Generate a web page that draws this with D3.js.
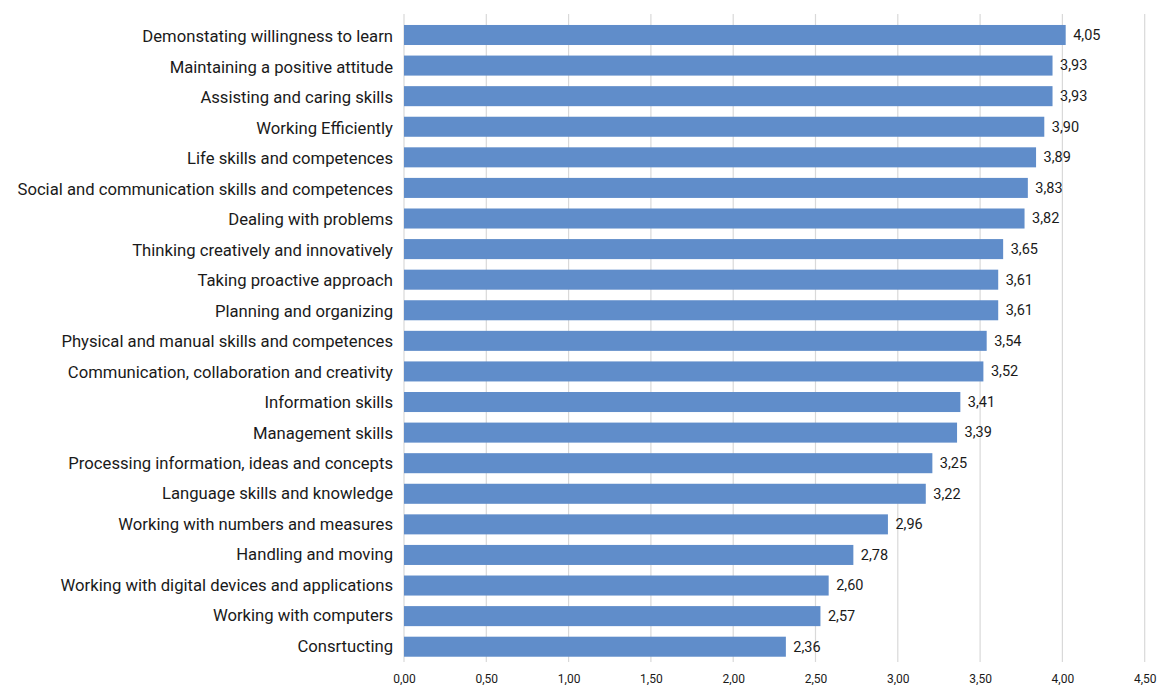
<!DOCTYPE html>
<html>
<head>
<meta charset="utf-8">
<script src="https://cdn.jsdelivr.net/npm/d3@7"></script>
<style>
  body { margin: 0; background: #fff; }
  svg { display: block; font-family: Roboto, "Noto Sans", sans-serif; }
</style>
</head>
<body>
<svg id="chart" width="1160" height="685"></svg>
<script>
const categories = [
  "Demonstating willingness to learn",
  "Maintaining a positive attitude",
  "Assisting and caring skills",
  "Working Efficiently",
  "Life skills and competences",
  "Social and communication skills and competences",
  "Dealing with problems",
  "Thinking creatively and innovatively",
  "Taking proactive approach",
  "Planning and organizing",
  "Physical and manual skills and competences",
  "Communication, collaboration and creativity",
  "Information skills",
  "Management skills",
  "Processing information, ideas and concepts",
  "Language skills and knowledge",
  "Working with numbers and measures",
  "Handling and moving",
  "Working with digital devices and applications",
  "Working with computers",
  "Consrtucting"
];
// bar lengths as drawn
const values = [4.02, 3.94, 3.94, 3.89, 3.84, 3.79, 3.77, 3.64, 3.61, 3.61, 3.54, 3.52, 3.38, 3.36, 3.21, 3.17, 2.94, 2.73, 2.58, 2.53, 2.32];
// printed value labels
const valueLabels = ["4,05", "3,93", "3,93", "3,90", "3,89", "3,83", "3,82", "3,65", "3,61", "3,61", "3,54", "3,52", "3,41", "3,39", "3,25", "3,22", "2,96", "2,78", "2,60", "2,57", "2,36"];
const tickValues = [0, 0.5, 1, 1.5, 2, 2.5, 3, 3.5, 4, 4.5];
const tickLabels = ["0,00", "0,50", "1,00", "1,50", "2,00", "2,50", "3,00", "3,50", "4,00", "4,50"];

const svg = d3.select("#chart");
const x = d3.scaleLinear().domain([0, 4.5]).range([404, 1144.7]);
const y = d3.scaleBand().domain(categories).range([19.7, 662]).paddingInner(0.345).paddingOuter(0.1725);
// category label positions (slightly tighter than the bars in the reference)
const yl = d3.scalePoint().domain(categories).range([36.5, 646]);

// gridlines
svg.append("g").selectAll("line").data(tickValues).join("line")
  .attr("x1", d => x(d)).attr("x2", d => x(d))
  .attr("y1", 14).attr("y2", 662)
  .attr("stroke", "#d9d9d9").attr("stroke-width", 1.2);

// bars
svg.append("g").selectAll("rect").data(values).join("rect")
  .attr("x", x(0))
  .attr("y", (d, i) => y(categories[i]))
  .attr("width", d => x(d) - x(0))
  .attr("height", y.bandwidth())
  .attr("fill", "#608dca");

// value labels
svg.append("g").selectAll("text").data(values).join("text")
  .attr("x", d => x(d) + 7.5)
  .attr("y", (d, i) => y(categories[i]) + y.bandwidth() / 2 + 1)
  .attr("dominant-baseline", "middle")
  .attr("font-size", 14.5)
  .attr("fill", "#1a1a1a")
  .text((d, i) => valueLabels[i]);

// category axis
const yAxis = d3.axisLeft(yl).tickSize(0).tickPadding(11);
const gy = svg.append("g").attr("transform", `translate(${x(0)},0)`).call(yAxis);
gy.select(".domain").remove();
gy.selectAll("text").attr("font-size", 16.67).attr("fill", "#1a1a1a").attr("font-family", "Roboto, sans-serif");

// x axis labels
const xAxis = d3.axisBottom(x).tickValues(tickValues).tickSize(0).tickPadding(0)
  .tickFormat((d, i) => tickLabels[i]);
const gx = svg.append("g").attr("transform", "translate(0,674)").call(xAxis);
gx.select(".domain").remove();
gx.selectAll("text").attr("font-size", 12).attr("fill", "#1a1a1a").attr("font-family", "Roboto, sans-serif");
</script>
</body>
</html>
